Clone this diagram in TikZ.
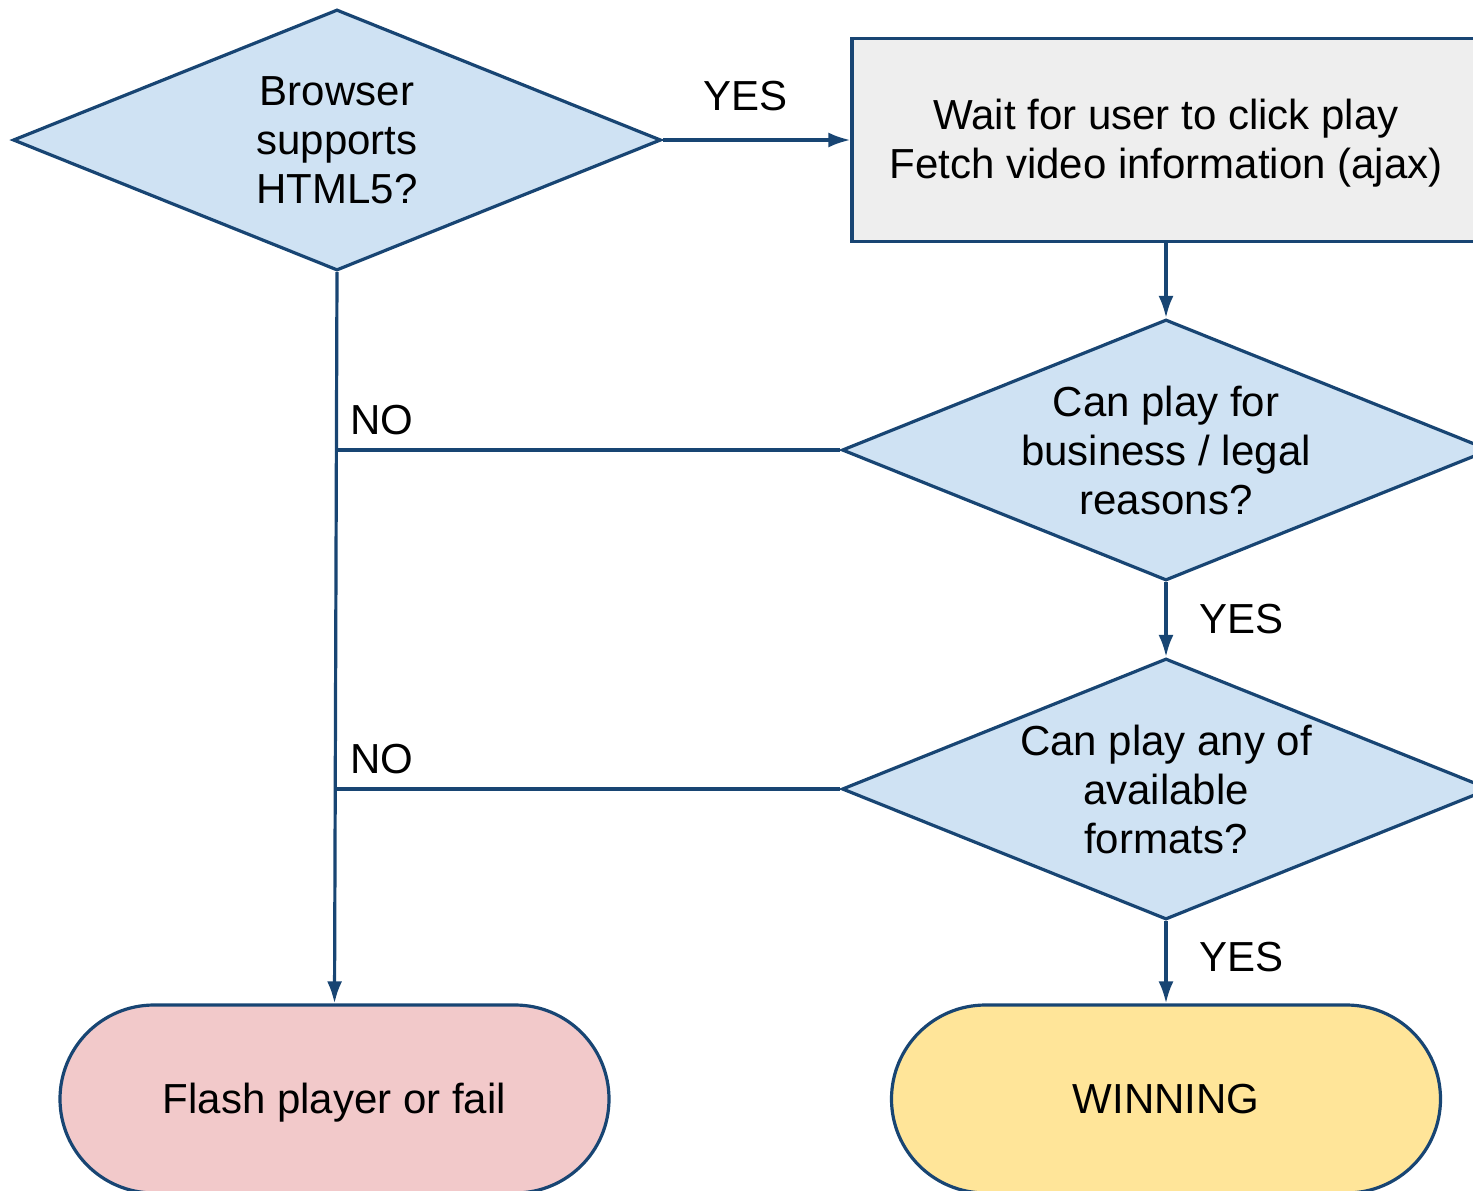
\documentclass[tikz,border=0pt]{standalone}
\usepackage{fontspec}
\setmainfont{Liberation Sans}
\usetikzlibrary{shapes.geometric,arrows.meta}
\definecolor{edgeblue}{RGB}{24,69,115}
\definecolor{askblue}{RGB}{207,226,243}
\definecolor{waitgray}{RGB}{238,238,238}
\definecolor{failpink}{RGB}{242,201,202}
\definecolor{winyellow}{RGB}{255,229,153}
\begin{document}
\begin{tikzpicture}[>={Latex[length=11pt,width=7.5pt]}, x=.5pt, y=-.5pt, line width=1.6pt,
  every node/.style={font=\fontsize{21}{24.5}\selectfont, align=center},
  decision/.style={diamond, draw=edgeblue, fill=askblue, aspect=2.48, minimum width=324pt, minimum height=130.5pt, inner sep=0pt},
  process/.style={rectangle, draw=edgeblue, fill=waitgray, minimum width=314pt, minimum height=101.5pt},
  terminal/.style={rectangle, rounded corners=47pt, draw=edgeblue, minimum width=274.5pt, minimum height=94pt},
  link/.style={draw=edgeblue}]
\useasboundingbox (0,0) rectangle (1473,1190);
\clip (0,0) rectangle (1473,1190);

\node[decision](html5) at (337,140) {Browser\\supports\\HTML5?};
\node[process](fetch) at (1166,140) {\raisebox{-2pt}[\height][\depth]{\begin{tabular}{@{}c@{}}Wait for user to click play\\Fetch video information (ajax)\end{tabular}}};
\node[decision](legal) at (1166,450) {Can play for\\business / legal\\reasons?};
\node[decision](formats) at (1166,789) {Can play any of\\available\\formats?};
\node[terminal, fill=failpink](fail) at (334.5,1099) {\raisebox{-2pt}[\height][\depth]{Flash player or fail}};
\node[terminal, fill=winyellow](win) at (1166,1099) {WINNING};

\draw[link,->](html5.east)--(fetch.west)node[pos=.44, above=10.5pt]{YES};
\draw[link,->](fetch.south)--(legal.north);
\draw[link,->](legal.south)--(formats.north)node[midway, right=12.5pt]{YES};
\draw[link,->](formats.south)--(win.north)node[pos=.435, right=12.5pt]{YES};
\draw[link,->](html5.south)--(fail.north);
\draw[link](legal.west)--(legal.west -| html5.south)node[above right, xshift=2.5pt, yshift=3.5pt]{NO};
\draw[link](formats.west)--(formats.west -| html5.south)node[above right, xshift=2.5pt, yshift=3.5pt]{NO};
\end{tikzpicture}
\end{document}
